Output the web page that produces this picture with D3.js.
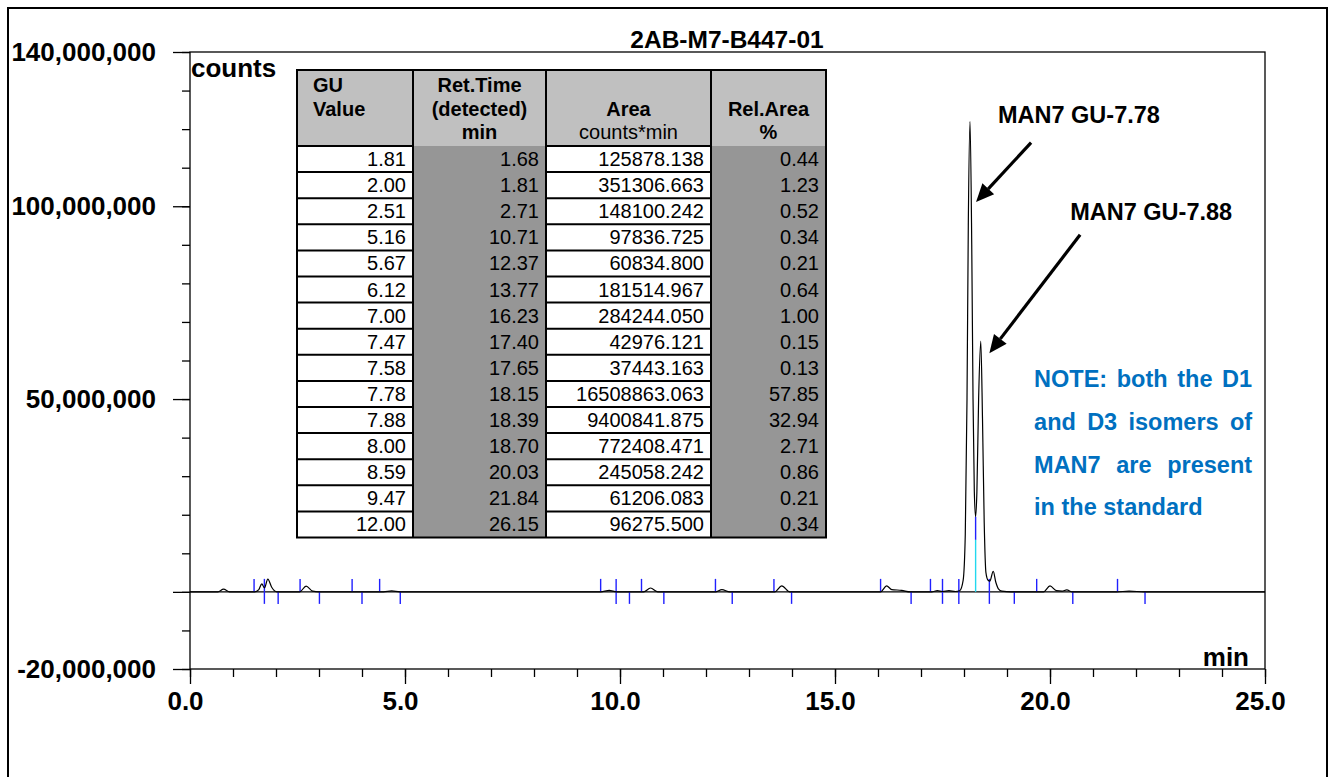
<!DOCTYPE html>
<html lang="en">
<head>
<meta charset="UTF-8">
<title>2AB-M7-B447-01</title>
<script src="https://d3js.org/d3.v7.min.js"></script>
<style>
  body { margin: 0; background: #fff; overflow: hidden; }
  svg { display: block; font-family: "Liberation Sans", Arial, sans-serif; }
  .axis-lbl { font-weight: bold; font-size: 26px; fill: #000; }
  .ann { font-weight: bold; font-size: 23.5px; fill: #000; }
  .note { font-weight: bold; font-size: 23.5px; fill: #0070c0; }
  .tbl { font-size: 20px; fill: #000; }
  .tbl-h { font-size: 20px; font-weight: bold; fill: #000; }
</style>
</head>
<body>
<script>
// trace (min, counts)
const traceTime = [0.00, 0.65, 0.78, 0.92, 1.50, 1.60, 1.67, 1.73, 1.81, 1.90, 2.02,
  2.55, 2.70, 2.85, 3.00, 4.50, 4.69, 4.88, 9.55, 9.75, 9.92, 10.55, 10.71, 10.88,
  12.22, 12.37, 12.55, 13.60, 13.76, 13.95, 16.06, 16.20, 16.32, 16.55, 16.75,
  17.25, 17.38, 17.50, 17.65, 17.80, 17.90, 17.98, 18.03, 18.07, 18.10, 18.14,
  18.18, 18.21, 18.24, 18.27, 18.30, 18.34, 18.39, 18.43, 18.47, 18.51, 18.56,
  18.60, 18.68, 18.74, 18.80, 18.88, 19.10, 19.85, 20.00, 20.15, 20.28, 20.39,
  20.52, 21.55, 21.84, 22.20, 25.00];
const traceCounts = [0, 0, 0.7e6, 0, 0, 0.6e6, 2.1e6, 1.0e6, 3.3e6, 1.2e6, 0,
  0, 1.5e6, 0.2e6, 0, 0, 0.25e6, 0, 0, 0.4e6, 0, 0, 1.0e6, 0,
  0, 0.6e6, 0, 0, 1.55e6, 0, 0, 1.55e6, 0.6e6, 0.4e6, 0,
  0, 0.3e6, 0.1e6, 0.3e6, 0.1e6, 0.3e6, 3e6, 15e6, 50e6, 95e6, 122e6,
  90e6, 50e6, 26e6, 19.5e6, 26e6, 50e6, 65e6, 45e6, 18e6, 5e6, 3e6,
  2.8e6, 5.3e6, 2.5e6, 0.8e6, 0.2e6, 0, 0, 1.55e6, 0.3e6, 0.2e6, 0.5e6,
  0, 0, 0.2e6, 0, 0];

// integration marks (min)
const peakStarts = [1.49, 1.73, 2.56, 3.77, 4.41, 9.55, 9.91, 10.50, 12.22, 13.58,
  16.06, 17.22, 17.50, 17.88, 18.59, 19.69, 21.57];
const peakEnds = [1.73, 2.05, 3.01, 4.00, 4.89, 9.91, 10.22, 11.02, 12.61, 13.99,
  16.77, 17.50, 17.88, 18.59, 19.17, 20.53, 22.21];
const splitTime = 18.27, splitTop = 19.5e6, splitCyanTop = 13.5e6;

const yMajor = [140e6, 100e6, 50e6, 0, -20e6];
const yLabelled = [140e6, 100e6, 50e6, -20e6];
const xMajor = [0, 5, 10, 15, 20, 25];

// peak table
const guValues = [1.81, 2.00, 2.51, 5.16, 5.67, 6.12, 7.00, 7.47, 7.58, 7.78, 7.88, 8.00, 8.59, 9.47, 12.00];
const retTimes = [1.68, 1.81, 2.71, 10.71, 12.37, 13.77, 16.23, 17.40, 17.65, 18.15, 18.39, 18.70, 20.03, 21.84, 26.15];
const areas = [125878.138, 351306.663, 148100.242, 97836.725, 60834.800, 181514.967, 284244.050,
  42976.121, 37443.163, 16508863.063, 9400841.875, 772408.471, 245058.242, 61206.083, 96275.500];
const relAreas = [0.44, 1.23, 0.52, 0.34, 0.21, 0.64, 1.00, 0.15, 0.13, 57.85, 32.94, 2.71, 0.86, 0.21, 0.34];

// annotations: [label, text time, text counts, arrow tail t, tail counts, tip t, tip counts]
const annotations = [
  ["MAN7 GU-7.78", 18.79, 121.6e6, 19.56, 116.5e6, 18.28, 101.1e6],
  ["MAN7 GU-7.88", 20.47, 96.5e6, 20.70, 92.6e6, 18.59, 61.9e6]
];
const noteLines = ["NOTE: both the D1", "and D3 isomers of", "MAN7 are present", "in the standard"];
const noteBase = [53.2e6, 42.0e6, 30.9e6, 20.0e6];

const W = 1333, H = 777;
const svg = d3.select("body").append("svg").attr("width", W).attr("height", H);

const x = d3.scaleLinear().domain([0, 25]).range([190, 1265]);
const y = d3.scaleLinear().domain([-20e6, 140e6]).range([669, 52]);

// outer border
svg.append("rect").attr("x", 8).attr("y", 8).attr("width", 1319).attr("height", 800)
  .attr("fill", "none").attr("stroke", "#000").attr("stroke-width", 2);

// title
svg.append("text").attr("x", 727).attr("y", 48).attr("text-anchor", "middle")
  .attr("font-weight", "bold").attr("font-size", 24.5).text("2AB-M7-B447-01");

// axes
const fmt = d3.format(",");
const yMinor = svg.append("g").attr("transform", "translate(190,0)")
  .call(d3.axisLeft(y).tickValues(d3.range(-20e6, 140e6 + 1, 10e6)).tickSize(8).tickSizeOuter(0).tickFormat(""));
const yMaj = svg.append("g").attr("transform", "translate(190,0)")
  .call(d3.axisLeft(y).tickValues(yMajor).tickSize(17).tickSizeOuter(0).tickPadding(17)
    .tickFormat(d => yLabelled.includes(d) ? fmt(d).replace("\u2212", "-") : ""));
const xMinor = svg.append("g").attr("transform", "translate(0,669)")
  .call(d3.axisBottom(x).tickValues(d3.range(0, 26, 1)).tickSize(8).tickSizeOuter(0).tickFormat(""));
const xMaj = svg.append("g").attr("transform", "translate(0,669)")
  .call(d3.axisBottom(x).tickValues(xMajor).tickSize(15).tickSizeOuter(0).tickPadding(8)
    .tickFormat(d3.format(".1f")));
[yMinor, yMaj, xMinor, xMaj].forEach(g => {
  g.select(".domain").remove();
  g.selectAll("line").attr("stroke", "#000").attr("stroke-width", 1.3);
  g.selectAll("text").attr("class", "axis-lbl").attr("font-family", null).attr("font-size", null);
});
xMaj.selectAll("text").attr("dx", -5);

// plot frame
svg.append("rect").attr("x", x(0)).attr("y", y(140e6))
  .attr("width", x(25) - x(0)).attr("height", y(-20e6) - y(140e6))
  .attr("fill", "none").attr("stroke", "#000").attr("stroke-width", 1.3);

svg.append("text").attr("class", "axis-lbl").attr("x", 191).attr("y", 77).text("counts");
svg.append("text").attr("class", "axis-lbl").attr("x", 1249).attr("y", 666)
  .attr("text-anchor", "end").text("min");

// zero line
svg.append("line").attr("x1", x(0)).attr("x2", x(25)).attr("y1", y(0)).attr("y2", y(0))
  .attr("stroke", "#000").attr("stroke-width", 1.2);

// integration marks
const blue = "#2020ff";
svg.append("g").selectAll("line").data(peakStarts).join("line")
  .attr("x1", d => x(d)).attr("x2", d => x(d))
  .attr("y1", y(0)).attr("y2", y(0) - 13)
  .attr("stroke", blue).attr("stroke-width", 1.4);
svg.append("g").selectAll("line").data(peakEnds).join("line")
  .attr("x1", d => x(d)).attr("x2", d => x(d))
  .attr("y1", y(0)).attr("y2", y(0) + 12)
  .attr("stroke", blue).attr("stroke-width", 1.4);
svg.append("line").attr("x1", x(splitTime)).attr("x2", x(splitTime))
  .attr("y1", y(0)).attr("y2", y(splitCyanTop)).attr("stroke", "#22d8ee").attr("stroke-width", 1.4);
svg.append("line").attr("x1", x(splitTime)).attr("x2", x(splitTime))
  .attr("y1", y(splitCyanTop)).attr("y2", y(splitTop)).attr("stroke", blue).attr("stroke-width", 1.4);

// trace
const line = d3.line().x(d => x(d[0])).y(d => y(d[1])).curve(d3.curveMonotoneX);
svg.append("path").datum(d3.zip(traceTime, traceCounts))
  .attr("d", line).attr("fill", "none").attr("stroke", "#000").attr("stroke-width", 1.2);

// annotations
annotations.forEach(a => {
  svg.append("text").attr("class", "ann").attr("x", x(a[1])).attr("y", y(a[2])).text(a[0]);
  const x1 = x(a[3]), y1 = y(a[4]), x2 = x(a[5]), y2 = y(a[6]);
  const ang = Math.atan2(y2 - y1, x2 - x1);
  const len = 18, hw = 8;
  const bx = x2 - len * Math.cos(ang), by = y2 - len * Math.sin(ang);
  svg.append("line").attr("x1", x1).attr("y1", y1).attr("x2", bx).attr("y2", by)
    .attr("stroke", "#000").attr("stroke-width", 3.2);
  const px = -Math.sin(ang) * hw, py = Math.cos(ang) * hw;
  svg.append("path")
    .attr("d", `M${x2},${y2}L${bx + px},${by + py}L${bx - px},${by - py}Z`)
    .attr("fill", "#000");
});

// note, justified
const noteL = x(19.63), noteR = x(24.70);
noteLines.forEach((ln, i) => {
  const words = ln.split(" ");
  const ts = words.map(w => svg.append("text").attr("class", "note").attr("y", y(noteBase[i])).text(w));
  const widths = ts.map(t => t.node().getComputedTextLength());
  const gap = i < noteLines.length - 1
    ? (noteR - noteL - d3.sum(widths)) / (words.length - 1)
    : 23.5 * 0.278;
  let cx = noteL;
  ts.forEach((t, k) => { t.attr("x", cx); cx += widths[k] + gap; });
});

// peak table
const cols = [297, 413, 546, 711, 826];
const tTop = 70, headH = 76, rowH = 26.1;
const nRows = guValues.length;
const tBot = tTop + headH + rowH * nRows;
const tb = svg.append("g");
tb.append("rect").attr("x", cols[0]).attr("y", tTop).attr("width", cols[4] - cols[0])
  .attr("height", headH).attr("fill", "#c0c0c0");
[1, 3].forEach(c => {
  tb.append("rect").attr("x", cols[c]).attr("y", tTop + headH)
    .attr("width", cols[c + 1] - cols[c]).attr("height", rowH * nRows).attr("fill", "#969696");
});
// row separators in white columns
[0, 2].forEach(c => {
  tb.append("g").selectAll("line").data(d3.range(nRows)).join("line")
    .attr("x1", cols[c]).attr("x2", cols[c + 1])
    .attr("y1", i => tTop + headH + rowH * i).attr("y2", i => tTop + headH + rowH * i)
    .attr("stroke", "#000").attr("stroke-width", 2);
});
tb.append("g").selectAll("line").data(cols).join("line")
  .attr("x1", d => d).attr("x2", d => d).attr("y1", tTop).attr("y2", tBot)
  .attr("stroke", "#000").attr("stroke-width", 2);
tb.append("rect").attr("x", cols[0]).attr("y", tTop).attr("width", cols[4] - cols[0])
  .attr("height", tBot - tTop).attr("fill", "none").attr("stroke", "#000").attr("stroke-width", 2);

// header text
const hdr = [
  [313, 92, "GU", "start", true], [313, 116, "Value", "start", true],
  [479.5, 92, "Ret.Time", "middle", true], [479.5, 116, "(detected)", "middle", true], [479.5, 139, "min", "middle", true],
  [628.5, 116, "Area", "middle", true], [628.5, 139, "counts*min", "middle", false],
  [768.5, 116, "Rel.Area", "middle", true], [768.5, 139, "%", "middle", true]
];
hdr.forEach(h => {
  tb.append("text").attr("class", h[4] ? "tbl-h" : "tbl").attr("x", h[0]).attr("y", h[1])
    .attr("text-anchor", h[3]).text(h[2]);
});

const colData = [
  guValues.map(v => v.toFixed(2)),
  retTimes.map(v => v.toFixed(2)),
  areas.map(v => v.toFixed(3)),
  relAreas.map(v => v.toFixed(2))
];
colData.forEach((vals, c) => {
  tb.append("g").selectAll("text").data(vals).join("text")
    .attr("class", "tbl").attr("text-anchor", "end")
    .attr("x", cols[c + 1] - 7)
    .attr("y", (d, i) => tTop + headH + rowH * i + rowH / 2 + 7)
    .text(d => d);
});
</script>
</body>
</html>
